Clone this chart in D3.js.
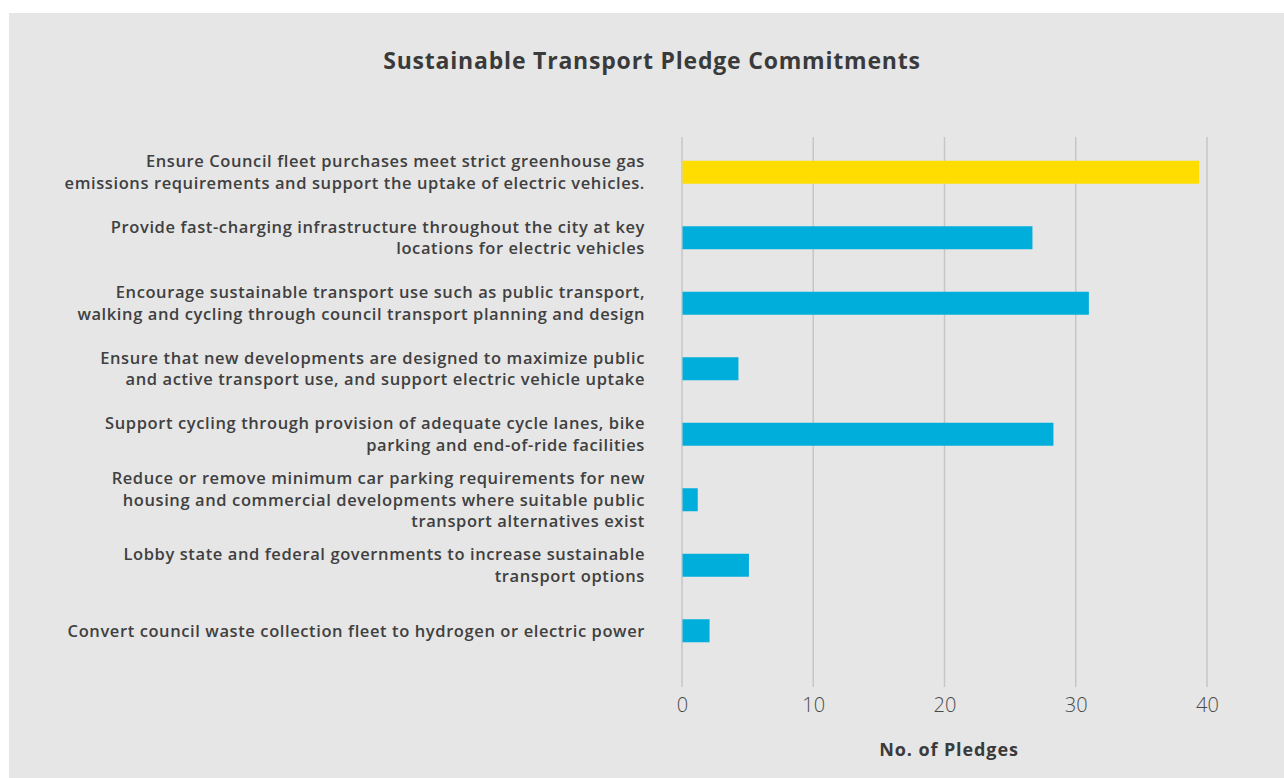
<!DOCTYPE html>
<html>
<head>
<meta charset="utf-8">
<script src="https://cdn.jsdelivr.net/npm/d3@7"></script>
<style>
  html, body { margin: 0; padding: 0; background: #ffffff; }
  svg { display: block; }
  text { font-family: "Open Sans", Lato, sans-serif; }
</style>
</head>
<body>
<svg id="chart" width="1284" height="778"></svg>
<script>
// Pledge commitments, one row per commitment (line breaks mark label wrapping)
const categories = [
  "Ensure Council fleet purchases meet strict greenhouse gas\nemissions requirements and support the uptake of electric vehicles.",
  "Provide fast-charging infrastructure throughout the city at key\nlocations for electric vehicles",
  "Encourage sustainable transport use such as public transport,\nwalking and cycling through council transport planning and design",
  "Ensure that new developments are designed to maximize public\nand active transport use, and support electric vehicle uptake",
  "Support cycling through provision of adequate cycle lanes, bike\nparking and end-of-ride facilities",
  "Reduce or remove minimum car parking requirements for new\nhousing and commercial developments where suitable public\ntransport alternatives exist",
  "Lobby state and federal governments to increase sustainable\ntransport options",
  "Convert council waste collection fleet to hydrogen or electric power"
];
const pledges = [39.4, 26.7, 31.0, 4.3, 28.3, 1.2, 5.1, 2.1];
const highlighted = [true, false, false, false, false, false, false, false];
const xTicks = [0, 10, 20, 30, 40];

const title = "Sustainable Transport Pledge Commitments";
const xTitle = "No. of Pledges";

const svg = d3.select("#chart");
const W = 1284, H = 778;

// panel background
svg.append("rect")
  .attr("x", 9).attr("y", 13)
  .attr("width", W - 9).attr("height", H - 13)
  .attr("fill", "#e6e6e6");

const x = d3.scaleLinear().domain([0, 40]).range([682, 1207]);
const y = d3.scaleBand()
  .domain(categories)
  .range([128, 675])
  .paddingInner(0.649)
  .paddingOuter(0.5);

const gridTop = 137, gridBottom = 687;

// vertical gridlines
svg.append("g")
  .selectAll("line")
  .data(xTicks)
  .join("line")
  .attr("x1", d => x(d)).attr("x2", d => x(d))
  .attr("y1", gridTop).attr("y2", gridBottom)
  .attr("stroke", "#c6c6c6")
  .attr("stroke-width", 1.5);

// bars
svg.append("g")
  .selectAll("rect")
  .data(categories)
  .join("rect")
  .attr("x", x(0) + 0.5)
  .attr("y", d => y(d))
  .attr("height", y.bandwidth())
  .attr("width", (d, i) => x(pledges[i]) - x(0) - 0.5)
  .attr("fill", (d, i) => highlighted[i] ? "#ffdd00" : "#00aedb");

// category labels, wrapped and centred on each bar
const lineH = 21.5;
const labels = svg.append("g")
  .selectAll("text")
  .data(categories)
  .join("text")
  .attr("text-anchor", "end")
  .attr("font-size", 16.5)
  .attr("font-weight", 600)
  .attr("letter-spacing", 0.6)
  .attr("fill", "#404040");
labels.each(function(d) {
  const lines = d.split("\n");
  const cy = y(d) + y.bandwidth() / 2;
  const t = d3.select(this);
  lines.forEach((ln, k) => {
    t.append("tspan")
      .attr("x", 645)
      .attr("y", cy + (k - (lines.length - 1) / 2) * lineH)
      .attr("dy", "0.35em")
      .text(ln);
  });
});

// x axis tick labels
const xAxis = d3.axisBottom(x).tickValues(xTicks).tickSize(0).tickPadding(0);
const gx = svg.append("g")
  .attr("transform", `translate(0, ${gridBottom + 11})`)
  .call(xAxis);
gx.select(".domain").remove();
gx.selectAll("text")
  .attr("font-family", "Lato, sans-serif")
  .attr("font-size", 20)
  .attr("font-weight", 300)
  .attr("fill", "#4a4a4a")
  .attr("dy", "0.71em");

// axis title
svg.append("text")
  .attr("x", 949).attr("y", 750)
  .attr("dy", "0.35em")
  .attr("text-anchor", "middle")
  .attr("font-size", 18)
  .attr("font-weight", 700)
  .attr("letter-spacing", 0.9)
  .attr("fill", "#3a3a3a")
  .text(xTitle);

// chart title
svg.append("text")
  .attr("x", 652).attr("y", 61)
  .attr("dy", "0.35em")
  .attr("text-anchor", "middle")
  .attr("font-size", 23)
  .attr("font-weight", 700)
  .attr("letter-spacing", 0.8)
  .attr("fill", "#3a3a3a")
  .text(title);
</script>
</body>
</html>
